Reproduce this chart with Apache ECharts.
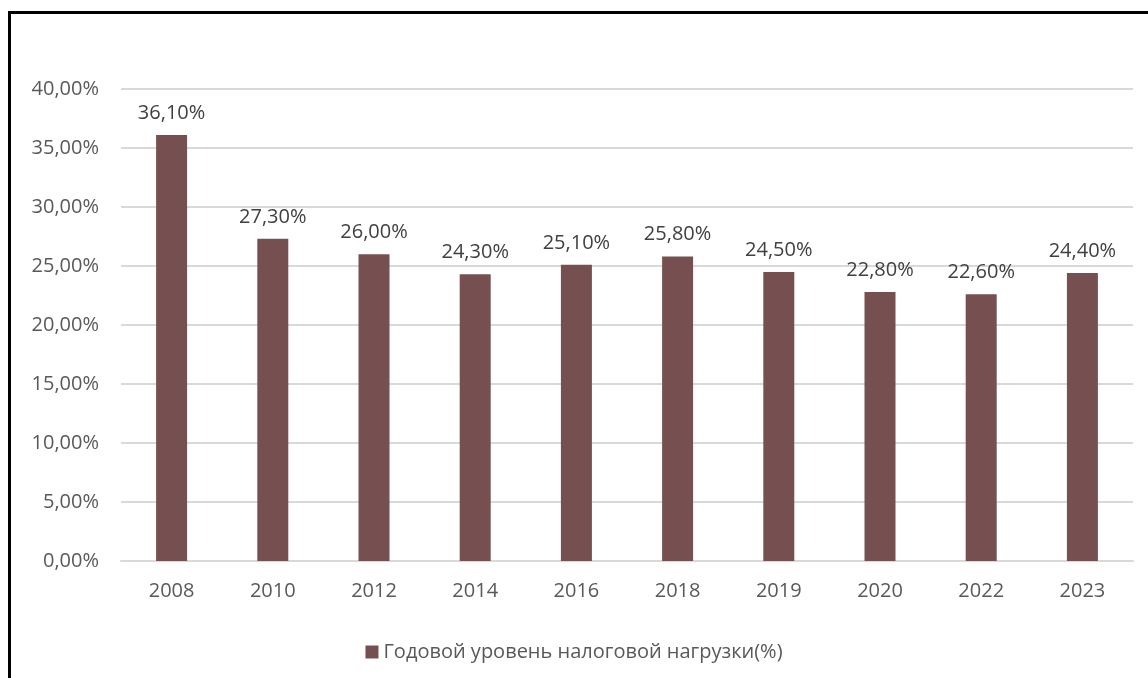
<!DOCTYPE html>
<html><head><meta charset="utf-8">
<script src="https://cdn.jsdelivr.net/npm/echarts@6/dist/echarts.min.js"></script>
<style>
html,body{margin:0;padding:0;background:#fff;}
#frame{position:absolute;left:8px;top:11px;width:1200px;height:700px;border-left:3px solid #000;border-top:3px solid #000;box-sizing:border-box;}
#chart{position:absolute;left:0;top:0;width:1148px;height:678px;}
</style></head>
<body>
<div id="frame"></div>
<div id="chart"></div>
<script>
const categories = ['2008','2010','2012','2014','2016','2018','2019','2020','2022','2023'];
const values = [36.1, 27.3, 26.0, 24.3, 25.1, 25.8, 24.5, 22.8, 22.6, 24.4];
const seriesName = 'Годовой уровень налоговой нагрузки(%)';
const fmt = v => v.toFixed(2).replace('.', ',') + '%';
const chart = echarts.init(document.getElementById('chart'), null, {renderer:'canvas'});
chart.setOption({
  animation:false,
  textStyle:{fontFamily:'Open Sans'},
  grid:{left:121,right:15,top:89,bottom:117,containLabel:false},
  legend:{top:637,left:'center',itemWidth:13,itemHeight:13,icon:'rect',itemGap:6,
    textStyle:{fontSize:20,color:'#595959',fontFamily:'Open Sans'},data:[seriesName]},
  xAxis:{type:'category',data:categories,
    axisLine:{lineStyle:{color:'#d9d9d9',width:2}},axisTick:{show:false},
    axisLabel:{fontSize:20,color:'#595959',margin:20}},
  yAxis:{type:'value',min:0,max:40,interval:5,
    axisLine:{show:false},axisTick:{show:false},
    splitLine:{lineStyle:{color:'#d9d9d9',width:2}},
    axisLabel:{fontSize:20,color:'#595959',margin:22,formatter:fmt}},
  series:[{name:seriesName,type:'bar',data:values,barWidth:31,
    itemStyle:{color:'#765050'},
    label:{show:true,position:'top',distance:12,fontSize:20,color:'#404040',formatter:p=>fmt(p.value)}}]
});
</script>
</body></html>
